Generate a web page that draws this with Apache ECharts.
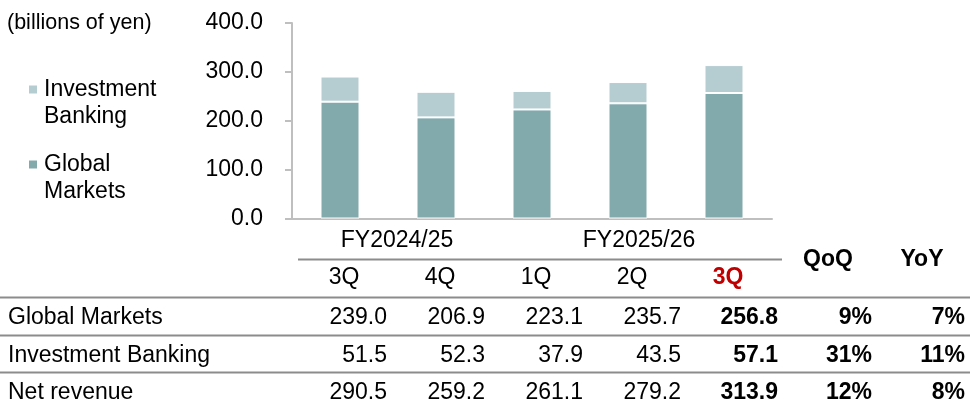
<!DOCTYPE html>
<html><head><meta charset="utf-8">
<script src="https://cdn.jsdelivr.net/npm/echarts@6/dist/echarts.min.js"></script>
<style>html,body{margin:0;padding:0;background:#fff}#c{width:970px;height:406px}</style>
</head><body><div id="c"></div>
<script>
const quarters = ['3Q', '4Q', '1Q', '2Q', '3Q'];
const fiscalYears = ['FY2024/25', 'FY2025/26'];
const globalMarkets = [239.0, 206.9, 223.1, 235.7, 256.8];
const investmentBanking = [51.5, 52.3, 37.9, 43.5, 57.1];
const netRevenue = [290.5, 259.2, 261.1, 279.2, 313.9];
const qoq = ['9%', '31%', '12%'];
const yoy = ['7%', '11%', '8%'];
const rowLabels = ['Global Markets', 'Investment Banking', 'Net revenue'];
const changeHeaders = ['QoQ', 'YoY'];
const unitLabel = '(billions of yen)';

const FF = '"Liberation Sans", Arial, sans-serif';
const FS = 23;
const C_GM = '#82A9AC', C_IB = '#B5CDD1', C_AX = '#BFBFBF', C_LINE = '#8C8C8C', C_RED = '#C00000';

const chart = echarts.init(document.getElementById('c'));

const g = [];
function txt(t, x, y, align, bold, color, size) {
  g.push({type: 'text', x: x, y: y, silent: true,
    style: {text: t, x: 0, y: 0, align: align, verticalAlign: 'middle',
      font: (bold ? 'bold ' : '') + (size || FS) + 'px ' + FF, fill: color || '#000'}});
}
function hline(x1, x2, y) {
  g.push({type: 'line', silent: true, shape: {x1: x1, y1: y, x2: x2, y2: y},
    style: {stroke: C_LINE, lineWidth: 2}});
}

txt(unitLabel, 7, 23, 'left', false, '#000', 21.5);
// fiscal year headers
txt(fiscalYears[0], 397, 241, 'center');
txt(fiscalYears[1], 639, 241, 'center');
hline(298, 782, 259.5);
// change headers
txt(changeHeaders[0], 828, 260, 'center', true);
txt(changeHeaders[1], 922, 260, 'center', true);
// row lines
hline(0, 970, 297.5);
hline(0, 970, 335.5);
hline(0, 970, 372.5);

const colRight = [387, 485, 583, 681, 778];
const rowY = [318, 356, 393];
const rows = [globalMarkets, investmentBanking, netRevenue];
rows.forEach((vals, r) => {
  txt(rowLabels[r], 8, rowY[r], 'left');
  vals.forEach((v, i) => {
    txt(v.toFixed(1), colRight[i], rowY[r], 'right', i === vals.length - 1);
  });
  txt(qoq[r], 872, rowY[r], 'right', true);
  txt(yoy[r], 965, rowY[r], 'right', true);
});

chart.setOption({
  animation: false,
  grid: {left: 292, right: 198, top: 23, bottom: 187.5, containLabel: false},
  legend: {
    orient: 'vertical', left: 27, top: 49, padding: 0, itemWidth: 10, itemHeight: 10, itemGap: -6,
    icon: 'rect', selectedMode: false,
    data: ['Investment Banking', 'Global Markets'],
    formatter: n => '\n' + n.replace(' ', '\n'),
    textStyle: {fontSize: FS, fontFamily: FF, color: '#000', lineHeight: 27, padding: [0, 0, 0, 1]}
  },
  xAxis: {
    type: 'category', data: quarters,
    axisLine: {lineStyle: {color: C_AX, width: 2}},
    axisTick: {show: false},
    axisLabel: {
      margin: 48, interval: 0,
      formatter: (v, i) => (i === quarters.length - 1 ? '{h|' + v + '}' : '{n|' + v + '}'),
      rich: {
        n: {fontSize: FS, fontFamily: FF, color: '#000', padding: [0, 0, 0, 8]},
        h: {fontSize: FS, fontFamily: FF, color: C_RED, fontWeight: 'bold', padding: [0, 0, 0, 8]}
      }
    }
  },
  yAxis: {
    type: 'value', min: 0, max: 400, interval: 100,
    axisLine: {show: true, lineStyle: {color: C_AX, width: 2}},
    axisTick: {show: true, length: 7, lineStyle: {color: C_AX, width: 2}},
    splitLine: {show: false},
    axisLabel: {margin: 29, formatter: v => v.toFixed(1), fontSize: FS, fontFamily: FF, color: '#000'}
  },
  series: [
    {name: 'Global Markets', type: 'bar', stack: 'total', data: globalMarkets, barWidth: 39,
      itemStyle: {color: C_GM, borderColor: '#fff', borderWidth: 1}},
    {name: 'Investment Banking', type: 'bar', stack: 'total', data: investmentBanking, barWidth: 39,
      itemStyle: {color: C_IB, borderColor: '#fff', borderWidth: 1}}
  ],
  graphic: {elements: g}
});
</script></body></html>
